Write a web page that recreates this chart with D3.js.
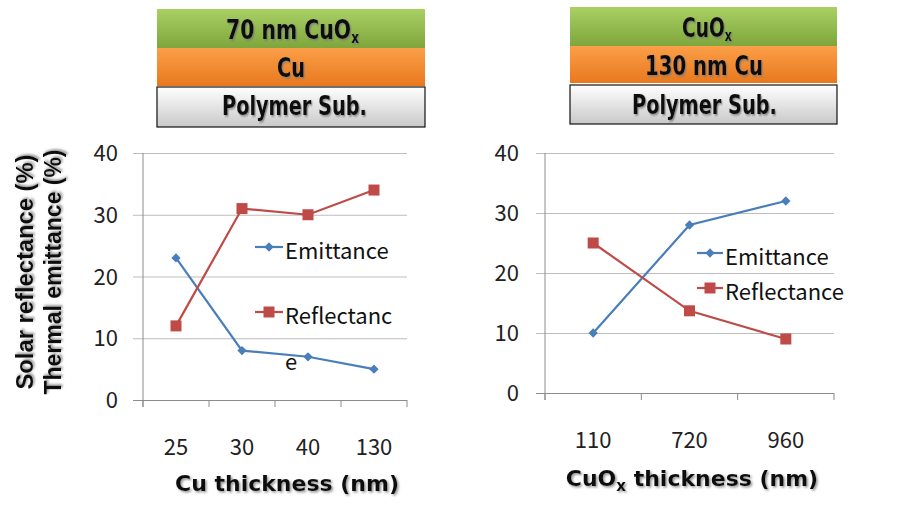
<!DOCTYPE html>
<html><head><meta charset="utf-8">
<script src="https://cdn.jsdelivr.net/npm/d3@7"></script>
<style>
html,body{margin:0;padding:0;background:#fff;}
svg{display:block;}
</style></head>
<body>
<svg id="c" width="910" height="514"></svg>
<script>
// ---- data ----
const leftCategories = ["25", "30", "40", "130"];
const leftEmittance = [23, 8, 7, 5];
const leftReflectance = [12, 31, 30, 34];
const rightCategories = ["110", "720", "960"];
const rightEmittance = [10, 28, 32];
const rightReflectance = [25, 13.7, 9];
const yTicks = [0, 10, 20, 30, 40];
const seriesNames = ["Emittance", "Reflectance"];
const leftStack = [["70 nm CuO", "x"], ["Cu", ""], ["Polymer Sub.", ""]];
const rightStack = [["CuO", "x"], ["130 nm Cu", ""], ["Polymer Sub.", ""]];

const BLUE = "#4a7ebb", RED = "#be4b48", GRID = "#bdbdbd", AXIS = "#8c8c8c";
const BODY = "'Noto Sans CJK KR','Noto Sans',sans-serif";
const HEAVY = "'DejaVu Sans Condensed','DejaVu Sans',sans-serif";

const svg = d3.select("#c");
const defs = svg.append("defs");
const sh = defs.append("filter").attr("id","sh").attr("x","-10%").attr("y","-30%").attr("width","130%").attr("height","160%");
sh.append("feDropShadow").attr("dx",1.5).attr("dy",1.5).attr("stdDeviation",0.8).attr("flood-color","#777").attr("flood-opacity",0.8);
function grad(id, c1, c2){
  const g = defs.append("linearGradient").attr("id",id).attr("x1",0).attr("y1",0).attr("x2",0).attr("y2",1);
  g.append("stop").attr("offset","0%").attr("stop-color",c1);
  g.append("stop").attr("offset","100%").attr("stop-color",c2);
}
grad("gG","#a9d063","#7ea63c");
grad("gO","#fb9f48","#e8781e");
grad("gS","#ffffff","#c9c9c9");

function stack(x, w, ys, labels, spans){
  const fills = ["url(#gG)","url(#gO)","url(#gS)"];
  labels.forEach((lab,i)=>{
    const y0 = ys[i][0], y1 = ys[i][1];
    svg.append("rect").attr("x",x).attr("y",y0).attr("width",w).attr("height",y1-y0)
      .attr("fill",fills[i]).attr("stroke", i===2 ? "#111" : "none").attr("stroke-width",1.2);
    const [sx, sw, base] = spans[i];
    const t = svg.append("text").attr("x",0).attr("y",0)
      .attr("font-family",HEAVY).attr("font-weight","bold")
      .attr("font-size",27).attr("fill","#111").attr("filter","url(#sh)");
    t.append("tspan").text(lab[0]);
    if(lab[1]) t.append("tspan").attr("font-size",16).attr("dy",4).text(lab[1]);
    const w0 = t.node().getComputedTextLength();
    t.attr("transform",`translate(${sx},${base}) scale(${sw/w0},1)`);
  });
}
stack(157, 268, [[9,48],[48,86],[87,127]], leftStack, [[226,133,39],[277,28,77],[222,145,115]]);
stack(570, 267, [[7,46],[46,83],[85,124]], rightStack, [[682,50,37],[645,118,75],[632,145,114]]);

function chart(cfg){
  const x = d3.scaleBand().domain(cfg.cats).range([cfg.x0, cfg.x1]);
  const y = d3.scaleLinear().domain([0,40]).range([cfg.y0, cfg.y1]);
  const g = svg.append("g");
  const ga = g.append("g").attr("transform",`translate(${cfg.x0},0)`)
    .call(d3.axisLeft(y).tickValues(yTicks).tickSize(-(cfg.x1-cfg.x0)).tickPadding(0).tickFormat(""));
  ga.select(".domain").remove();
  ga.selectAll(".tick line").attr("stroke",GRID).attr("x1",-(cfg.x0-cfg.gx)).attr("stroke-width",1);
  ga.selectAll(".tick").filter(d=>d===0).select("line").attr("stroke",AXIS);
  g.selectAll(".yl").data(yTicks).join("text")
    .attr("x",cfg.lx).attr("y",d=>y(d)+8).attr("text-anchor","end")
    .attr("font-family",BODY).attr("font-size",22).attr("fill","#222").text(d=>d);
  g.append("line").attr("x1",cfg.x0).attr("x2",cfg.x0).attr("y1",y(40)).attr("y2",y(0)+7).attr("stroke",AXIS);
  const bounds = cfg.cats.map(c=>x(c)+x.bandwidth()).concat([cfg.x0]);
  g.selectAll(".xt").data(bounds).join("line")
    .attr("x1",d=>d).attr("x2",d=>d).attr("y1",y(0)).attr("y2",y(0)+7).attr("stroke",AXIS);
  const xa = g.append("g").attr("transform",`translate(0,${cfg.xly})`)
    .call(d3.axisBottom(x).tickSize(0).tickPadding(0));
  xa.select(".domain").remove();
  xa.selectAll("text").attr("font-family",BODY).attr("font-size",22).attr("fill","#222").attr("dy",0);
  const line = d3.line().x((d,i)=>x(cfg.cats[i])+x.bandwidth()/2).y(d=>y(d));
  g.append("path").datum(cfg.em).attr("d",line).attr("fill","none").attr("stroke",BLUE).attr("stroke-width",2.2);
  g.append("path").datum(cfg.re).attr("d",line).attr("fill","none").attr("stroke",RED).attr("stroke-width",2.2);
  g.selectAll(".dm").data(cfg.em).join("path")
    .attr("d",d3.symbol(d3.symbolDiamond2, 55))
    .attr("transform",(d,i)=>`translate(${x(cfg.cats[i])+x.bandwidth()/2},${y(d)})`)
    .attr("fill",BLUE);
  g.selectAll(".sq").data(cfg.re).join("rect")
    .attr("x",(d,i)=>x(cfg.cats[i])+x.bandwidth()/2-5.5).attr("y",d=>y(d)-5.5)
    .attr("width",11).attr("height",11).attr("fill",RED);
  const L = cfg.leg;
  [[BLUE, L.y1, "d"],[RED, L.y2, "s"]].forEach(([col,ly,m])=>{
    g.append("line").attr("x1",L.x).attr("x2",L.x+L.w).attr("y1",ly).attr("y2",ly).attr("stroke",col).attr("stroke-width",2.2);
    if(m==="d") g.append("path").attr("d",d3.symbol(d3.symbolDiamond2,55)).attr("transform",`translate(${L.x+L.w/2},${ly})`).attr("fill",col);
    else g.append("rect").attr("x",L.x+L.w/2-5.5).attr("y",ly-5.5).attr("width",11).attr("height",11).attr("fill",col);
  });
  const lt = (s,yy)=>g.append("text").attr("x",L.x+L.w+2).attr("y",yy).attr("font-family",BODY)
    .attr("font-size",22).attr("fill","#111").text(s);
  lt(seriesNames[0], L.y1+12);
  if(L.wrap){
    lt(seriesNames[1].slice(0,-1), L.y2+12);
    lt(seriesNames[1].slice(-1), L.y2+58);
  } else lt(seriesNames[1], L.y2+12);
  const t = g.append("text").attr("x",cfg.tx).attr("y",cfg.ty).attr("text-anchor","middle")
    .attr("font-family","'DejaVu Sans',sans-serif").attr("font-weight","bold").attr("font-size",22)
    .attr("fill","#111").attr("filter","url(#sh)");
  cfg.title.forEach(p=>{
    const s = t.append("tspan").text(p[0]);
    if(p[1]==="sub") s.attr("font-size",15).attr("dy",5);
    if(p[1]==="back") s.attr("dy",-5);
  });
}

chart({cats:leftCategories, em:leftEmittance, re:leftReflectance,
  x0:143, x1:407, gx:133, y0:400, y1:153, lx:118, xly:455,
  leg:{x:255,w:28,y1:247,y2:312,wrap:true},
  tx:287, ty:491, title:[["Cu thickness (nm)"]]});
chart({cats:rightCategories, em:rightEmittance, re:rightReflectance,
  x0:545, x1:834, gx:536, y0:393, y1:153, lx:519, xly:448,
  leg:{x:697,w:26,y1:253,y2:288,wrap:false},
  tx:692, ty:486, title:[["CuO"],["x","sub"],[" thickness (nm)","back"]]});

[["Solar reflectance (%)",33,235],["Thermal emittance (%)",61,245]].forEach(([s,bx,len])=>{
  svg.append("text").attr("transform",`translate(${bx},272) rotate(-90)`).attr("text-anchor","middle")
    .attr("font-family","'Liberation Sans',Arial,sans-serif").attr("font-weight","bold").attr("font-size",23)
    .attr("textLength",len).attr("lengthAdjust","spacingAndGlyphs")
    .attr("fill","#111").attr("filter","url(#sh)").text(s);
});
</script>
</body></html>
